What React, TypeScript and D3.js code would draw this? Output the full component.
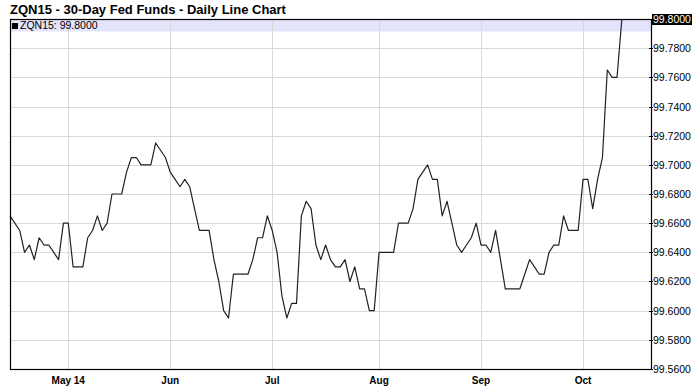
import React from "react";
import * as d3 from "d3";

const title = "ZQN15 - 30-Day Fed Funds - Daily Line Chart";
const seriesName = "ZQN15";
const values: number[] = [
  99.665, 99.66, 99.655, 99.64, 99.645, 99.635, 99.65, 99.645, 99.645, 99.64,
  99.635, 99.66, 99.66, 99.63, 99.63, 99.63, 99.65, 99.655, 99.665, 99.655,
  99.66, 99.68, 99.68, 99.68, 99.695, 99.705, 99.705, 99.7, 99.7, 99.7,
  99.715, 99.71, 99.705, 99.695, 99.69, 99.685, 99.69, 99.685, 99.67, 99.655,
  99.655, 99.655, 99.635, 99.62, 99.6, 99.595, 99.625, 99.625, 99.625, 99.625,
  99.635, 99.65, 99.65, 99.665, 99.655, 99.64, 99.61, 99.595, 99.605, 99.605,
  99.665, 99.675, 99.67, 99.645, 99.635, 99.645, 99.635, 99.63, 99.63, 99.635,
  99.62, 99.63, 99.615, 99.615, 99.6, 99.6, 99.64, 99.64, 99.64, 99.64,
  99.66, 99.66, 99.66, 99.67, 99.69, 99.695, 99.7, 99.69, 99.69, 99.665,
  99.675, 99.66, 99.645, 99.64, 99.645, 99.65, 99.66, 99.645, 99.645, 99.64,
  99.655, 99.635, 99.615, 99.615, 99.615, 99.615, 99.625, 99.635, 99.63, 99.625,
  99.625, 99.64, 99.645, 99.645, 99.665, 99.655, 99.655, 99.655, 99.69, 99.69,
  99.67, 99.69, 99.705, 99.765, 99.76, 99.76, 99.8,
];
const monthLabels = ["May 14", "Jun", "Jul", "Aug", "Sep", "Oct"];
const monthIndex = [12, 33, 54, 76, 97, 118];
const yTicks = [99.56, 99.58, 99.6, 99.62, 99.64, 99.66, 99.68, 99.7, 99.72, 99.74, 99.76, 99.78, 99.8];
const lastValue = 99.8;

const W = 697;
const H = 392;
const L = 10;
const R = 651;
const T = 19;
const B = 369;
const font = "Liberation Sans, Arial, Helvetica, sans-serif";

export default function App() {
  const x = d3.scaleLinear().domain([0, 132]).range([L, R]);
  const y = d3.scaleLinear().domain([99.56, 99.8]).range([B, T]);
  const line = d3
    .line<number>()
    .x((_, i) => x(i))
    .y((d) => y(d));

  return (
    <svg
      width={W}
      height={H}
      style={{ position: "absolute", left: 0, top: 0, background: "#fff" }}
      fontFamily={font}
    >
      <rect x={0} y={0} width={W} height={H} fill="#fff" />
      <text x={10} y={14} fontSize={13} fontWeight="bold" fill="#000">
        {title}
      </text>
      {/* legend band */}
      <rect x={L} y={T} width={R - L} height={12.5} fill="#e3e3fb" />
      {/* grid */}
      {yTicks.map((t) => (
        <line key={"gy" + t} x1={L} x2={R} y1={Math.round(y(t)) + 0.5} y2={Math.round(y(t)) + 0.5} stroke="#d9d9d9" strokeWidth={1} />
      ))}
      {monthIndex.map((m) => (
        <line key={"gx" + m} x1={Math.round(x(m)) + 0.5} x2={Math.round(x(m)) + 0.5} y1={T} y2={B} stroke="#d9d9d9" strokeWidth={1} />
      ))}
      {/* legend */}
      <rect x={12} y={23} width={6} height={6} fill="#000" />
      <text x={20} y={29} fontSize={10.5} fill="#000">
        {seriesName}: {lastValue.toFixed(4)}
      </text>
      {/* series */}
      <path d={line(values) || ""} fill="none" stroke="#222" strokeWidth={1.2} strokeLinejoin="round" />
      {/* frame */}
      <rect x={L + 0.5} y={T + 0.5} width={R - L} height={B - T} fill="none" stroke="#000" strokeWidth={1.2} />
      {/* y ticks and labels */}
      {yTicks.map((t) => {
        const yy = Math.round(y(t)) + 0.5;
        const top = Math.abs(t - lastValue) < 1e-9;
        return (
          <g key={"yt" + t}>
            <line x1={R - 2} x2={R + 2} y1={yy} y2={yy} stroke="#000" />
            {top && <rect x={652} y={yy - 5.5} width={40} height={11} fill="#000" />}
            <text x={653} y={yy + 3.8} fontSize={10.5} fill={top ? "#fff" : "#000"}>
              {t.toFixed(4)}
            </text>
          </g>
        );
      })}
      {/* x labels */}
      {monthIndex.map((m, i) => (
        <text key={"xl" + m} x={x(m)} y={384} fontSize={10} fontWeight="bold" textAnchor="middle" fill="#000">
          {monthLabels[i]}
        </text>
      ))}
    </svg>
  );
}
